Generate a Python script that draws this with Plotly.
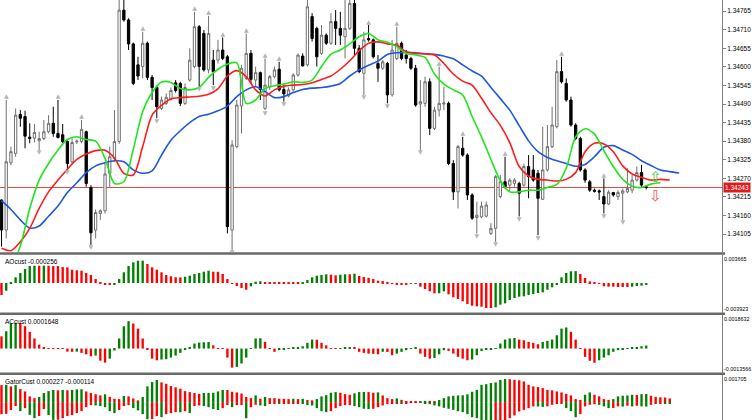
import plotly.graph_objects as go

# ---- price bars (bar 0 is the half-cut candle on the left edge) ----
opens = [1.34206, 1.34117, 1.34316, 1.34344, 1.34459, 1.34453, 1.34392, 1.34389, 1.34381, 1.34388,
         1.34408, 1.34433, 1.34403, 1.34399, 1.34379, 1.34319, 1.34378, 1.34379, 1.34408, 1.34243,
         1.34117, 1.34166, 1.34174, 1.34285, 1.34329, 1.34379, 1.34768, 1.34739, 1.34668, 1.34606,
         1.34601, 1.34670, 1.34569, 1.34539, 1.34477, 1.34492, 1.34504, 1.34553, 1.34551, 1.34492,
         1.34561, 1.34601, 1.34719, 1.34699, 1.34591, 1.34620, 1.34620, 1.34650, 1.34630, 1.34117,
         1.34364, 1.34484, 1.34566, 1.34640, 1.34561, 1.34583, 1.34477, 1.34541, 1.34571, 1.34593,
         1.34533, 1.34514, 1.34532, 1.34576, 1.34632, 1.34606, 1.34749, 1.34714, 1.34640, 1.34694,
         1.34670, 1.34734, 1.34714, 1.34689, 1.34714, 1.34788, 1.34655, 1.34581, 1.34684, 1.34680,
         1.34610, 1.34596, 1.34610, 1.34517, 1.34625, 1.34670, 1.34635, 1.34625, 1.34596, 1.34490,
         1.34492, 1.34556, 1.34418, 1.34472, 1.34490, 1.34492, 1.34314, 1.34230, 1.34359, 1.34339,
         1.34221, 1.34154, 1.34156, 1.34158, 1.34107, 1.34122, 1.34216, 1.34260, 1.34250, 1.34255,
         1.34255, 1.34250, 1.34305, 1.34295, 1.34285, 1.34208, 1.34295, 1.34364, 1.34423, 1.34586,
         1.34551, 1.34502, 1.34428, 1.34388, 1.34295, 1.34260, 1.34235, 1.34233, 1.34216, 1.34194,
         1.34228, 1.34216, 1.34226, 1.34230, 1.34235, 1.34265, 1.34287, 1.34245]
highs = [1.34208, 1.34502, 1.34364, 1.34477, 1.34472, 1.34470, 1.34433, 1.34431, 1.34408, 1.34443,
         1.34457, 1.34482, 1.34502, 1.34431, 1.34383, 1.34388, 1.34385, 1.34443, 1.34411, 1.34250,
         1.34178, 1.34178, 1.34314, 1.34364, 1.34472, 1.34808, 1.34798, 1.34744, 1.34672, 1.34630,
         1.34704, 1.34675, 1.34576, 1.34546, 1.34512, 1.34522, 1.34539, 1.34561, 1.34556, 1.34551,
         1.34655, 1.34763, 1.34724, 1.34709, 1.34751, 1.34650, 1.34680, 1.34687, 1.34635, 1.34383,
         1.34502, 1.34606, 1.34699, 1.34650, 1.34601, 1.34586, 1.34625, 1.34576, 1.34601, 1.34615,
         1.34546, 1.34539, 1.34581, 1.34640, 1.34640, 1.34798, 1.34759, 1.34719, 1.34724, 1.34699,
         1.34759, 1.34768, 1.34763, 1.34798, 1.34798, 1.34798, 1.34665, 1.34704, 1.34724, 1.34684,
         1.34635, 1.34620, 1.34615, 1.34680, 1.34719, 1.34675, 1.34650, 1.34630, 1.34606, 1.34561,
         1.34571, 1.34566, 1.34482, 1.34601, 1.34541, 1.34497, 1.34324, 1.34369, 1.34393, 1.34344,
         1.34226, 1.34201, 1.34201, 1.34201, 1.34137, 1.34280, 1.34280, 1.34334, 1.34270, 1.34270,
         1.34260, 1.34314, 1.34339, 1.34339, 1.34295, 1.34423, 1.34428, 1.34482, 1.34620, 1.34630,
         1.34566, 1.34512, 1.34433, 1.34393, 1.34300, 1.34265, 1.34240, 1.34237, 1.34270, 1.34235,
         1.34230, 1.34235, 1.34240, 1.34300, 1.34280, 1.34305, 1.34310, 1.34250]
lows = [1.34068, 1.34092, 1.34309, 1.34334, 1.34423, 1.34359, 1.34374, 1.34376, 1.34354, 1.34383,
        1.34403, 1.34393, 1.34388, 1.34374, 1.34297, 1.34314, 1.34372, 1.34374, 1.34245, 1.34073,
        1.34092, 1.34147, 1.34166, 1.34245, 1.34319, 1.34372, 1.34734, 1.34650, 1.34546, 1.34561,
        1.34566, 1.34561, 1.34502, 1.34448, 1.34472, 1.34487, 1.34500, 1.34524, 1.34484, 1.34487,
        1.34556, 1.34596, 1.34541, 1.34586, 1.34581, 1.34546, 1.34610, 1.34620, 1.34107, 1.34058,
        1.34359, 1.34403, 1.34561, 1.34551, 1.34541, 1.34502, 1.34472, 1.34532, 1.34566, 1.34527,
        1.34497, 1.34510, 1.34527, 1.34571, 1.34601, 1.34601, 1.34675, 1.34601, 1.34635, 1.34665,
        1.34665, 1.34665, 1.34665, 1.34625, 1.34709, 1.34635, 1.34581, 1.34517, 1.34675, 1.34625,
        1.34556, 1.34591, 1.34492, 1.34512, 1.34620, 1.34620, 1.34610, 1.34591, 1.34482, 1.34354,
        1.34482, 1.34398, 1.34413, 1.34453, 1.34472, 1.34309, 1.34206, 1.34181, 1.34334, 1.34206,
        1.34147, 1.34107, 1.34152, 1.34154, 1.34102, 1.34082, 1.34211, 1.34240, 1.34230, 1.34245,
        1.34157, 1.34245, 1.34211, 1.34260, 1.34102, 1.34206, 1.34290, 1.34359, 1.34418, 1.34551,
        1.34497, 1.34423, 1.34383, 1.34290, 1.34257, 1.34230, 1.34228, 1.34206, 1.34166, 1.34191,
        1.34216, 1.34206, 1.34147, 1.34226, 1.34226, 1.34260, 1.34245, 1.34237]
closes = [1.34117, 1.34319, 1.34349, 1.34457, 1.34448, 1.34395, 1.34388, 1.34406, 1.34388, 1.34408,
          1.34433, 1.34403, 1.34391, 1.34379, 1.34314, 1.34376, 1.34380, 1.34415, 1.34255, 1.34109,
          1.34169, 1.34174, 1.34283, 1.34334, 1.34379, 1.34768, 1.34739, 1.34668, 1.34551, 1.34573,
          1.34670, 1.34569, 1.34539, 1.34482, 1.34502, 1.34510, 1.34530, 1.34530, 1.34492, 1.34539,
          1.34620, 1.34719, 1.34601, 1.34591, 1.34699, 1.34586, 1.34650, 1.34625, 1.34127, 1.34369,
          1.34487, 1.34596, 1.34640, 1.34563, 1.34583, 1.34533, 1.34546, 1.34571, 1.34591, 1.34532,
          1.34520, 1.34532, 1.34576, 1.34635, 1.34603, 1.34778, 1.34684, 1.34630, 1.34694, 1.34670,
          1.34734, 1.34714, 1.34694, 1.34714, 1.34788, 1.34655, 1.34586, 1.34680, 1.34680, 1.34630,
          1.34596, 1.34615, 1.34517, 1.34650, 1.34670, 1.34625, 1.34625, 1.34596, 1.34487, 1.34497,
          1.34556, 1.34418, 1.34472, 1.34492, 1.34493, 1.34314, 1.34230, 1.34364, 1.34339, 1.34221,
          1.34152, 1.34161, 1.34188, 1.34191, 1.34122, 1.34275, 1.34260, 1.34245, 1.34265, 1.34265,
          1.34226, 1.34305, 1.34275, 1.34265, 1.34211, 1.34295, 1.34364, 1.34428, 1.34586, 1.34556,
          1.34502, 1.34428, 1.34388, 1.34295, 1.34265, 1.34235, 1.34232, 1.34230, 1.34194, 1.34229,
          1.34221, 1.34228, 1.34233, 1.34240, 1.34265, 1.34287, 1.34250, 1.34243]

# ---- Alligator lines, read every second bar (jaw/teeth/lips run ahead of price) ----
jaw = [1.34204, 1.34178, 1.34147, 1.34123, 1.34129, 1.34158, 1.34188, 1.34228, 1.34257, 1.34287,
       1.34307, 1.34316, 1.34322, 1.34319, 1.34295, 1.34285, 1.34292, 1.34339, 1.34383, 1.34411,
       1.34435, 1.34453, 1.34460, 1.34470, 1.34484, 1.34512, 1.34532, 1.34541, 1.34527, 1.34509,
       1.34512, 1.34524, 1.34533, 1.34537, 1.34539, 1.34543, 1.34551, 1.34573, 1.34591, 1.34605,
       1.34617, 1.34637, 1.34642, 1.34643, 1.34642, 1.34639, 1.34637, 1.34632, 1.34624, 1.34606,
       1.34588, 1.34573, 1.34539, 1.34506, 1.34472, 1.34426, 1.34381, 1.34349, 1.34332, 1.34322,
       1.34314, 1.34306, 1.34311, 1.34334, 1.34362, 1.34367, 1.34354, 1.34341, 1.34322, 1.34308,
       1.34295, 1.34290, 1.34286]
teeth = [1.34063, 1.34056, 1.34082, 1.34122, 1.34181, 1.34230, 1.34265, 1.34297, 1.34326, 1.34342,
         1.34352, 1.34353, 1.34330, 1.34285, 1.34280, 1.34364, 1.34457, 1.34486, 1.34505, 1.34509,
         1.34511, 1.34513, 1.34519, 1.34535, 1.34573, 1.34589, 1.34571, 1.34532, 1.34514, 1.34532,
         1.34543, 1.34546, 1.34548, 1.34553, 1.34563, 1.34573, 1.34593, 1.34618, 1.34648, 1.34670,
         1.34674, 1.34668, 1.34664, 1.34645, 1.34640, 1.34638, 1.34635, 1.34610, 1.34579, 1.34558,
         1.34546, 1.34507, 1.34464, 1.34427, 1.34376, 1.34305, 1.34277, 1.34267, 1.34265, 1.34262,
         1.34267, 1.34287, 1.34349, 1.34374, 1.34372, 1.34349, 1.34307, 1.34283, 1.34273, 1.34265,
         1.34267, 1.34265]
lips = [1.33979, 1.34008, 1.34070, 1.34181, 1.34265, 1.34314, 1.34354, 1.34385, 1.34393, 1.34385,
        1.34380, 1.34329, 1.34255, 1.34260, 1.34356, 1.34467, 1.34524, 1.34555, 1.34554, 1.34536,
        1.34532, 1.34539, 1.34569, 1.34593, 1.34608, 1.34612, 1.34492, 1.34502, 1.34536, 1.34544,
        1.34549, 1.34556, 1.34554, 1.34561, 1.34601, 1.34638, 1.34650, 1.34668, 1.34689, 1.34699,
        1.34680, 1.34673, 1.34660, 1.34640, 1.34635, 1.34628, 1.34579, 1.34549, 1.34532, 1.34517,
        1.34453, 1.34393, 1.34326, 1.34263, 1.34230, 1.34230, 1.34235, 1.34235, 1.34243, 1.34252,
        1.34300, 1.34393, 1.34417, 1.34401, 1.34352, 1.34305, 1.34267, 1.34247, 1.34243, 1.34253,
        1.34257]

fractal_up = [1, 12, 17, 30, 41, 44, 47, 52, 56, 59, 78, 84, 93, 98, 107, 119, 128]
fractal_dn = [8, 14, 19, 33, 42, 45, 49, 56, 60, 77, 82, 89, 101, 105, 110, 114, 128, 132]

signal_bar = 139
buy_arrow_price = 1.34271
sell_arrow_price = 1.34215
last_price = 1.34243

price_ticks = [1.34105, 1.34160, 1.34215, 1.34270, 1.34325, 1.34380, 1.34435,
               1.34490, 1.34545, 1.34600, 1.34655, 1.34710, 1.34765]

# ---- oscillators ----
ao = [-0.00157, -0.00101, 0.00003, 0.00075, 0.00131, 0.00183, 0.00222, 0.00226, 0.00226, 0.00227,
      0.00226, 0.00222, 0.00222, 0.00209, 0.00205, 0.00174, 0.00166, 0.00161, 0.00131, 0.00105,
      0.00052, 0.00007, -0.00020, -0.00026, -0.00013, 0.00052, 0.00140, 0.00222, 0.00271, 0.00291,
      0.00292, 0.00249, 0.00205, 0.00174, 0.00140, 0.00105, 0.00088, 0.00075, 0.00074, 0.00082,
      0.00096, 0.00118, 0.00131, 0.00148, 0.00161, 0.00148, 0.00147, 0.00118, 0.00052, -0.00009,
      -0.00039, -0.00065, -0.00088, -0.00043, 0.00017, 0.00022, 0.00013, 0.00005, 0.00004, 0.00004,
      0.00003, 0.00003, 0.00003, 0.00003, 0.00004, 0.00039, 0.00075, 0.00096, 0.00105, 0.00114,
      0.00109, 0.00101, 0.00109, 0.00114, 0.00114, 0.00122, 0.00092, 0.00079, 0.00069, 0.00052,
      0.00030, 0.00026, 0.00013, -0.00004, -0.00017, -0.00017, -0.00017, -0.00004, -0.00002, -0.00048,
      -0.00079, -0.00109, -0.00135, -0.00134, -0.00109, -0.00148, -0.00187, -0.00209, -0.00239, -0.00275,
      -0.00297, -0.00305, -0.00310, -0.00327, -0.00327, -0.00318, -0.00284, -0.00266, -0.00222, -0.00196,
      -0.00179, -0.00174, -0.00157, -0.00144, -0.00131, -0.00122, -0.00088, -0.00056, -0.00013, 0.00075,
      0.00131, 0.00153, 0.00155, 0.00118, 0.00065, 0.00022, 0.00002, -0.00009, -0.00043, -0.00048,
      -0.00048, -0.00052, -0.00052, -0.00052, -0.00048, -0.00039, -0.00035, -0.000256]
ac = [0.00068, 0.00096, 0.00140, 0.00143, 0.00142, 0.00124, 0.00093, 0.00056, 0.00022, 0.00006,
      0.00002, 0.00002, 0.00001, -0.00002, -0.00017, -0.00018, -0.00017, -0.00024, -0.00032, -0.00043,
      -0.00039, -0.00067, -0.00078, -0.00056, -0.00011, 0.00056, 0.00124, 0.00152, 0.00139, 0.00111,
      0.00056, -0.00006, -0.00056, -0.00065, -0.00061, -0.00059, -0.00050, -0.00039, -0.00024, -0.00006,
      0.00009, 0.00028, 0.00033, 0.00035, 0.00036, 0.00018, 0.00002, -0.00002, -0.00050, -0.00106,
      -0.00102, -0.00083, -0.00050, 0.00002, 0.00056, 0.00057, 0.00037, 0.00002, -0.00018, -0.00009,
      -0.00006, 0.00002, 0.00004, 0.00009, 0.00013, 0.00032, 0.00050, 0.00049, 0.00032, 0.00018,
      0.00002, 0.00001, 0.00002, 0.00006, 0.00009, 0.00008, -0.00018, -0.00024, -0.00028, -0.00029,
      -0.00032, -0.00018, -0.00019, -0.00037, -0.00028, -0.00018, -0.00009, 0.00002, 0.00006, -0.00028,
      -0.00046, -0.00056, -0.00052, -0.00032, -0.00009, -0.00013, -0.00028, -0.00046, -0.00056, -0.00065,
      -0.00061, -0.00037, -0.00014, -0.00008, -0.00006, -0.00002, 0.00028, 0.00050, 0.00056, 0.00059,
      0.00050, 0.00046, 0.00037, 0.00032, 0.00024, 0.00037, 0.00043, 0.00050, 0.00074, 0.00111,
      0.00117, 0.00093, 0.00050, 0.00002, -0.00046, -0.00068, -0.00079, -0.00065, -0.00050, -0.00037,
      -0.00018, -0.00009, -0.00004, -0.00002, 0.00004, 0.00006, 0.00013, 0.0001648]
gator_up = [0.00107, 0.00109, 0.00099, 0.00107, 0.00082, 0.00067, 0.00036, 0.00025, 0.00032, 0.00057,
            0.00069, 0.00076, 0.00074, 0.00076, 0.00074, 0.00077, 0.00080, 0.00081, 0.00067, 0.00057,
            0.00050, 0.00042, 0.00049, 0.00033, 0.00021, 0.00019, 0.00038, 0.00036, 0.00023, 0.00011,
            0.00032, 0.00099, 0.00126, 0.00139, 0.00124, 0.00115, 0.00101, 0.00093, 0.00084, 0.00069,
            0.00063, 0.00057, 0.00052, 0.00057, 0.00058, 0.00059, 0.00067, 0.00077, 0.00076, 0.00065,
            0.00061, 0.00054, 0.00032, 0.00025, 0.00042, 0.00021, 0.00032, 0.00025, 0.00025, 0.00021,
            0.00021, 0.00019, 0.00021, 0.00019, 0.00021, 0.00013, 0.00011, 0.00019, 0.00036, 0.00044,
            0.00059, 0.00063, 0.00059, 0.00050, 0.00046, 0.00055, 0.00063, 0.00064, 0.00063, 0.00059,
            0.00061, 0.00042, 0.00025, 0.00019, 0.00023, 0.00014, 0.00006, 0.00004, 0.00002, 0.00004,
            0.00008, 0.00008, 0.00006, 0.00013, 0.00025, 0.00036, 0.00040, 0.00042, 0.00043, 0.00049,
            0.00065, 0.00077, 0.00109, 0.00113, 0.00120, 0.00124, 0.00140, 0.00145, 0.00144, 0.00140,
            0.00137, 0.00130, 0.00109, 0.00099, 0.00095, 0.00088, 0.00077, 0.00074, 0.00067, 0.00061,
            0.00052, 0.00042, 0.00019, 0.00014, 0.00046, 0.00061, 0.00046, 0.00036, 0.00019, 0.00014,
            0.00019, 0.00036, 0.00040, 0.00042, 0.00046, 0.00045, 0.00050, 0.00051, 0.00040, 0.00033,
            0.00030, 0.00029, 0.000227]
gator_dn = [-0.00076, -0.00074, -0.00050, -0.00025, -0.00057, -0.00038, -0.00080, -0.00101, -0.00088, -0.00044,
            -0.00082, -0.00112, -0.00111, -0.00101, -0.00088, -0.00082, -0.00069, -0.00057, -0.00032, -0.00019,
            -0.00021, -0.00025, -0.00032, -0.00057, -0.00069, -0.00050, -0.00025, -0.00019, -0.00038, -0.00052,
            -0.00076, -0.00107, -0.00106, -0.00088, -0.00095, -0.00076, -0.00069, -0.00063, -0.00064, -0.00057,
            -0.00069, -0.00025, -0.00021, -0.00025, -0.00032, -0.00044, -0.00050, -0.00038, -0.00019, -0.00032,
            -0.00019, -0.00019, -0.00101, -0.00032, -0.00017, -0.00021, -0.00025, -0.00008, -0.00006, -0.00008,
            -0.00008, -0.00008, -0.00006, -0.00006, -0.00008, -0.00019, -0.00021, -0.00038, -0.00057, -0.00063,
            -0.00057, -0.00038, -0.00025, -0.00019, -0.00019, -0.00025, -0.00032, -0.00042, -0.00044, -0.00042,
            -0.00032, -0.00021, -0.00013, -0.00008, -0.00008, -0.00011, -0.00008, -0.00004, -0.00004, -0.00002,
            -0.00006, -0.00013, -0.00021, -0.00027, -0.00036, -0.00042, -0.00049, -0.00057, -0.00063, -0.00076,
            -0.00095, -0.00101, -0.00126, -0.00132, -0.00133, -0.00132, -0.00126, -0.00120, -0.00101, -0.00084,
            -0.00059, -0.00049, -0.00038, -0.00027, -0.00028, -0.00030, -0.00027, -0.00017, -0.00011, -0.00008,
            -0.00038, -0.00057, -0.00095, -0.00076, -0.00027, -0.00017, -0.00013, -0.00017, -0.00027, -0.00038,
            -0.00037, -0.00027, -0.00028, -0.00023, -0.00027, -0.00023, -0.00027, -0.00028, -0.00017, -0.00011,
            -0.00006, -0.00007, -0.000114]

GREEN, RED = "#008000", "#ff0000"
FONT = "Liberation Sans, Arial, sans-serif"
W, H = 752, 420
RIGHT = 722 / W          # where the price scale starts


def grow_colors(vals, use_abs=False):
    cols = []
    for i, v in enumerate(vals):
        p = vals[i - 1] if i else v
        a, b = (abs(v), abs(p)) if use_abs else (v, p)
        cols.append(GREEN if a > b else RED)
    return cols


def dom(top, bottom):
    return [1 - bottom / H, 1 - top / H]


bars = list(range(len(opens)))
fig = go.Figure()

fig.add_trace(go.Candlestick(
    x=bars, open=opens, high=highs, low=lows, close=closes,
    increasing=dict(fillcolor="white", line=dict(color="#707070", width=1)),
    decreasing=dict(fillcolor="black", line=dict(color="black", width=1)),
    whiskerwidth=0, hoverinfo="skip"))

for vals, col in ((jaw, "#1f57e0"), (teeth, "#ff1c1c"), (lips, "#1ee61e")):
    fig.add_trace(go.Scatter(x=list(range(0, 2 * len(vals), 2)), y=vals, mode="lines",
                             line=dict(color=col, width=1.6, shape="spline", smoothing=0.8),
                             hoverinfo="skip"))

fig.add_trace(go.Scatter(x=fractal_up, y=[highs[i] for i in fractal_up], mode="text",
                         text=["▲"] * len(fractal_up), textposition="top center",
                         textfont=dict(size=6, color="#b4b4b4", family="DejaVu Sans")))
fig.add_trace(go.Scatter(x=fractal_dn, y=[lows[i] for i in fractal_dn], mode="text",
                         text=["▼"] * len(fractal_dn), textposition="bottom center",
                         textfont=dict(size=6, color="#b4b4b4", family="DejaVu Sans")))
fig.add_trace(go.Scatter(x=[signal_bar, signal_bar], y=[buy_arrow_price, sell_arrow_price],
                         mode="text", text=["⇧", "⇩"],
                         textfont=dict(size=15, color=["#3cd23c", "#ff4a4a"], family="DejaVu Sans")))

fig.add_trace(go.Bar(x=bars, y=ao, marker=dict(color=grow_colors(ao), line_width=0),
                     width=0.5, yaxis="y2"))
fig.add_trace(go.Bar(x=bars, y=ac, marker=dict(color=grow_colors(ac), line_width=0),
                     width=0.5, yaxis="y3"))
gx = list(range(len(gator_up)))
fig.add_trace(go.Bar(x=gx, y=gator_up, marker=dict(color=grow_colors(gator_up), line_width=0),
                     width=0.5, yaxis="y4"))
fig.add_trace(go.Bar(x=gx, y=gator_dn, marker=dict(color=grow_colors(gator_dn, True), line_width=0),
                     width=0.5, yaxis="y4"))

side_axis = dict(side="right", anchor="x", showgrid=False, zeroline=False, showline=True,
                 linecolor="#808080", linewidth=1, showticklabels=False, ticks="", fixedrange=True)

fig.update_layout(
    width=W, height=H, margin=dict(l=0, r=0, t=0, b=0),
    paper_bgcolor="white", plot_bgcolor="white", showlegend=False,
    barmode="overlay", font=dict(family=FONT, size=7, color="black"),
    xaxis=dict(domain=[0, RIGHT], range=[-0.32, 153.1], visible=False,
               rangeslider=dict(visible=False)),
    yaxis=dict(side_axis, domain=dom(0, 252), range=[1.34052, 1.34798],
               showticklabels=True, tickvals=price_ticks,
               ticktext=[f"{v:.5f}" for v in price_ticks], ticks="outside", ticklen=3,
               tickcolor="#808080", tickfont=dict(size=6.5, family=FONT)),
    yaxis2=dict(side_axis, domain=dom(255, 313), range=[-0.003923, 0.003665]),
    yaxis3=dict(side_axis, domain=dom(315, 373), range=[-0.0013566, 0.0018632]),
    yaxis4=dict(side_axis, domain=dom(375, 420), range=[-0.001126, 0.001705]),
)

# current price line (behind the candles) and its tag
fig.add_shape(type="line", xref="paper", yref="y", x0=0, x1=RIGHT, y0=last_price, y1=last_price,
              line=dict(color="#e04848", width=1), layer="below")
fig.add_annotation(xref="paper", yref="y", x=RIGHT + 1 / W, y=last_price, text=f"{last_price:.5f}",
                   showarrow=False, xanchor="left", yanchor="middle", bgcolor="#e01b1b",
                   font=dict(color="white", size=6.5), borderpad=1)

# panel separators
for ypx in (253.5, 313.8, 373.8):
    fig.add_shape(type="line", xref="paper", yref="paper", x0=0, x1=RIGHT + 3 / W,
                  y0=1 - ypx / H, y1=1 - ypx / H, line=dict(color="#6a6a6a", width=2.5))

# panel titles
for text, top in (("AOcust -0.000256", 256), ("ACcust 0.0001648", 316),
                  ("GatorCust 0.000227 -0.000114", 376)):
    fig.add_annotation(xref="paper", yref="paper", x=3 / W, y=1 - top / H, text=text,
                       showarrow=False, xanchor="left", yanchor="top", font=dict(size=6.5))

# scale labels of the indicator windows
for text, ypx, anchor in (("0.003665", 255, "top"), ("-0.003923", 313, "bottom"),
                          ("0.0018632", 315, "top"), ("-0.0013566", 373, "bottom"),
                          ("0.001705", 375, "top")):
    fig.add_annotation(xref="paper", yref="paper", x=RIGHT + 1 / W, y=1 - ypx / H, text=text,
                       showarrow=False, xanchor="left", yanchor=anchor, font=dict(size=5.4),
                       borderpad=0)

fig.write_html("out.html", config={"displayModeBar": False},
               post_script="document.body.style.margin='0';")
